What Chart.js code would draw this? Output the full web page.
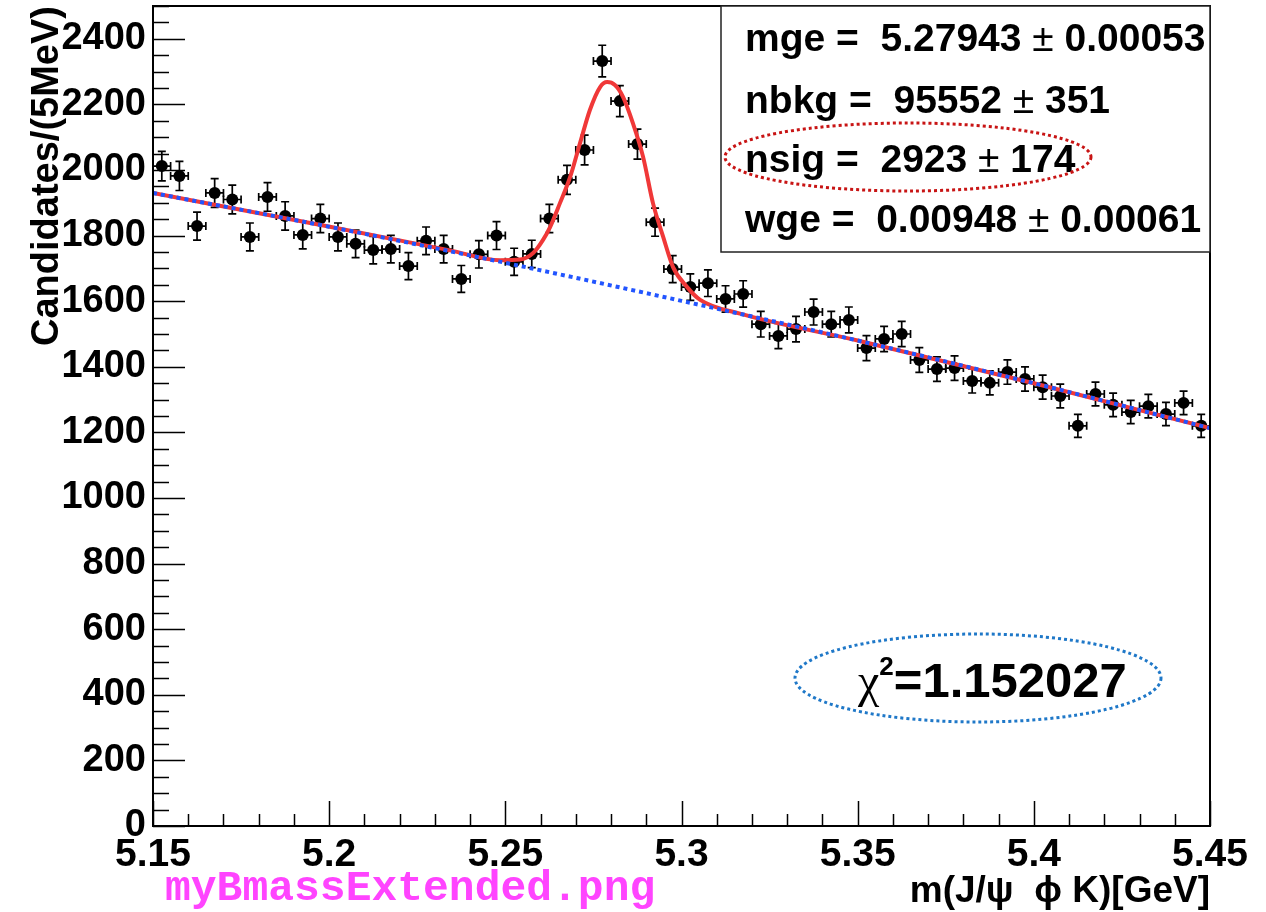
<!DOCTYPE html>
<html>
<head>
<meta charset="utf-8">
<script src="https://cdn.jsdelivr.net/npm/chart.js@4.4.1/dist/chart.umd.min.js"></script>
<style>
  body { margin: 0; background: #fff; }
  canvas { display: block; }
</style>
</head>
<body>
<canvas id="chart" width="1266" height="912"></canvas>
<script>
// 5 MeV bins, 5.15 - 5.45 GeV
const binCenters = [
  5.1525, 5.1575, 5.1625, 5.1675, 5.1725, 5.1775, 5.1825, 5.1875, 5.1925, 5.1975,
  5.2025, 5.2075, 5.2125, 5.2175, 5.2225, 5.2275, 5.2325, 5.2375, 5.2425, 5.2475,
  5.2525, 5.2575, 5.2625, 5.2675, 5.2725, 5.2775, 5.2825, 5.2875, 5.2925, 5.2975,
  5.3025, 5.3075, 5.3125, 5.3175, 5.3225, 5.3275, 5.3325, 5.3375, 5.3425, 5.3475,
  5.3525, 5.3575, 5.3625, 5.3675, 5.3725, 5.3775, 5.3825, 5.3875, 5.3925, 5.3975,
  5.4025, 5.4075, 5.4125, 5.4175, 5.4225, 5.4275, 5.4325, 5.4375, 5.4425, 5.4475
];
const counts = [
  2012, 1982, 1829, 1930, 1910, 1796, 1918, 1860, 1802, 1852,
  1796, 1775, 1756, 1759, 1707, 1784, 1759, 1668, 1743, 1800,
  1720, 1744, 1852, 1970, 2061, 2332, 2210, 2079, 1841, 1698,
  1643, 1655, 1607, 1622, 1530, 1494, 1515, 1567, 1530, 1543,
  1457, 1485, 1500, 1421, 1393, 1396, 1357, 1351, 1384, 1363,
  1338, 1311, 1220, 1317, 1284, 1262, 1280, 1256, 1290, 1220
];
const binWidth = 0.005;

// background component (blue dotted)
const bkgX = [5.15, 5.20, 5.25, 5.30, 5.35, 5.40, 5.45];
const bkgY = [1930, 1827, 1717, 1601, 1480, 1350, 1213];

// total fit (red)
const totalX = [5.15, 5.2002, 5.2343, 5.2485, 5.2542, 5.2579, 5.2607, 5.2627, 5.2655, 5.2684,
  5.2712, 5.2740, 5.2769, 5.2789, 5.2811, 5.2834, 5.2862, 5.2891, 5.2919, 5.2948,
  5.2976, 5.3016, 5.3053, 5.3166, 5.35, 5.40, 5.45];
const totalY = [1930, 1827, 1755, 1725, 1727, 1747, 1787, 1826, 1899, 1979,
  2082, 2183, 2253, 2268, 2259, 2223, 2143, 2040, 1899, 1796,
  1704, 1643, 1604, 1562, 1480, 1350, 1213];

const yTicks = [0, 200, 400, 600, 800, 1000, 1200, 1400, 1600, 1800, 2000, 2200, 2400];
const xTicks = [5.15, 5.2, 5.25, 5.3, 5.35, 5.4, 5.45];
const xTickLabels = ['5.15', '5.2', '5.25', '5.3', '5.35', '5.4', '5.45'];

const fitNames = ['mge', 'nbkg', 'nsig', 'wge'];
const fitValues = ['5.27943', '95552', '2923', '0.00948'];
const fitErrors = ['0.00053', '351', '174', '0.00061'];
const chi2Value = '1.152027';

const BOLD = 'bold 38px "Liberation Sans", Arial, sans-serif';
const STAT = 'bold 39px "Liberation Sans", Arial, sans-serif';
const SYM = '39px "Liberation Sans", "DejaVu Sans", sans-serif';

function drawSegs(ctx, segs, x, y) {
  let cx = x;
  segs.forEach(s => {
    ctx.font = s.font;
    ctx.fillText(s.text, cx, y + (s.dy || 0));
    cx += ctx.measureText(s.text).width;
  });
}

function dottedEllipse(ctx, cx, cy, rx, ry, color) {
  ctx.save();
  ctx.strokeStyle = color;
  ctx.lineWidth = 3;
  ctx.setLineDash([3, 3]);
  ctx.beginPath();
  ctx.ellipse(cx, cy, rx, ry, 0, 0, Math.PI * 2);
  ctx.stroke();
  ctx.restore();
}

const rootPlugin = {
  id: 'rootPlugin',
  beforeDatasetsDraw(chart) {
    const ctx = chart.ctx;
    const xs = chart.scales.x, ys = chart.scales.y;
    ctx.save();
    ctx.strokeStyle = '#000';
    ctx.lineWidth = 1.7;
    binCenters.forEach((c, i) => {
      const px = xs.getPixelForValue(c);
      const pl = xs.getPixelForValue(c - binWidth / 2);
      const pr = xs.getPixelForValue(c + binWidth / 2);
      const err = Math.sqrt(counts[i]);
      const py = ys.getPixelForValue(counts[i]);
      const pt = ys.getPixelForValue(counts[i] + err);
      const pb = ys.getPixelForValue(counts[i] - err);
      ctx.beginPath();
      ctx.moveTo(px, pt); ctx.lineTo(px, pb);
      ctx.moveTo(px - 4, pt); ctx.lineTo(px + 4, pt);
      ctx.moveTo(px - 4, pb); ctx.lineTo(px + 4, pb);
      ctx.moveTo(pl, py); ctx.lineTo(pr, py);
      ctx.moveTo(pl, py - 4); ctx.lineTo(pl, py + 4);
      ctx.moveTo(pr, py - 4); ctx.lineTo(pr, py + 4);
      ctx.stroke();
    });
    ctx.restore();
  },
  afterDraw(chart) {
    const ctx = chart.ctx;
    const a = chart.chartArea;
    const xs = chart.scales.x, ys = chart.scales.y;
    ctx.save();

    // frame
    ctx.strokeStyle = '#000';
    ctx.lineWidth = 2;
    ctx.strokeRect(a.left, a.top, a.right - a.left, a.bottom - a.top);

    // ticks (inside, ROOT style)
    ctx.lineWidth = 1.5;
    ctx.beginPath();
    for (let v = 0; v <= 2500; v += 50) {
      const py = Math.round(ys.getPixelForValue(v)) + 0.5;
      const len = v % 200 === 0 ? 32 : 16;
      ctx.moveTo(a.left, py); ctx.lineTo(a.left + len, py);
    }
    for (let k = 0; k <= 30; k++) {
      const px = Math.round(xs.getPixelForValue(5.15 + k * 0.01)) + 0.5;
      const len = k % 5 === 0 ? 25 : 12;
      ctx.moveTo(px, a.bottom); ctx.lineTo(px, a.bottom - len);
    }
    ctx.stroke();

    // tick labels
    ctx.fillStyle = '#000';
    ctx.font = BOLD;
    ctx.textAlign = 'right';
    ctx.textBaseline = 'middle';
    yTicks.forEach(v => ctx.fillText(String(v), 146, ys.getPixelForValue(v)));
    ctx.textAlign = 'center';
    ctx.textBaseline = 'alphabetic';
    ctx.font = 'bold 39px "Liberation Sans", Arial, sans-serif';
    xTicks.forEach((v, i) => ctx.fillText(xTickLabels[i], xs.getPixelForValue(v), 866));

    // axis titles
    ctx.textAlign = 'right';
    ctx.font = 'bold 37px "Liberation Sans", Arial, sans-serif';
    ctx.fillText('m(J/\u03C8  \u03D5 K)[GeV]', 1210, 902);
    ctx.save();
    ctx.translate(58, 6);
    ctx.rotate(-Math.PI / 2);
    ctx.font = BOLD;
    ctx.textAlign = 'right';
    ctx.fillText('Candidates/(5MeV)', 0, 0);
    ctx.restore();

    // stats box
    ctx.fillStyle = '#fff';
    ctx.fillRect(721, a.top, a.right - 721, 252 - a.top);
    ctx.strokeStyle = '#222';
    ctx.lineWidth = 1.5;
    ctx.strokeRect(721, a.top, a.right - 721, 252 - a.top);
    ctx.fillStyle = '#000';
    ctx.textAlign = 'left';
    const rowY = [51, 113, 172, 232];
    fitNames.forEach((n, i) => {
      drawSegs(ctx, [
        { text: n + ' =  ' + fitValues[i] + ' ', font: STAT },
        { text: '\u00B1', font: SYM },
        { text: ' ' + fitErrors[i], font: STAT }
      ], 745, rowY[i]);
    });
    dottedEllipse(ctx, 908, 157, 183, 34, '#c81414');

    // chi2
    drawSegs(ctx, [
      { text: '\u03C7', font: '48px "Liberation Serif", "DejaVu Serif", serif' },
      { text: '2', font: 'bold 26px "Liberation Sans", Arial, sans-serif', dy: -22 },
      { text: '=' + chi2Value, font: 'bold 49px "Liberation Sans", Arial, sans-serif' }
    ], 858, 697);
    dottedEllipse(ctx, 978, 678, 183, 44, '#1f78c8');

    // file name
    ctx.fillStyle = '#ff44ff';
    ctx.font = 'bold 43px "Liberation Mono", "Courier New", monospace';
    ctx.textAlign = 'left';
    ctx.fillText('myBmassExtended.png', 165, 900);

    ctx.restore();
  }
};

const toXY = (xs, ys) => xs.map((x, i) => ({ x: x, y: ys[i] }));

new Chart(document.getElementById('chart'), {
  type: 'scatter',
  data: {
    datasets: [
      {
        label: 'background',
        data: toXY(bkgX, bkgY),
        showLine: true,
        borderColor: '#2255ff',
        borderWidth: 4,
        borderDash: [4, 4],
        pointRadius: 0,
        cubicInterpolationMode: 'monotone'
      },
      {
        label: 'total',
        data: toXY(totalX, totalY),
        showLine: true,
        borderColor: '#f03838',
        borderWidth: 4,
        pointRadius: 0,
        cubicInterpolationMode: 'monotone'
      },
      {
        label: 'data',
        data: toXY(binCenters, counts),
        pointRadius: 6,
        pointBackgroundColor: '#000',
        pointBorderColor: '#000',
        pointBorderWidth: 0
      }
    ]
  },
  options: {
    responsive: false,
    devicePixelRatio: 1,
    animation: false,
    layout: { padding: { left: 153, right: 56, top: 6, bottom: 86 } },
    plugins: { legend: { display: false }, tooltip: { enabled: false } },
    scales: {
      x: { type: 'linear', display: false, min: 5.15, max: 5.45 },
      y: { type: 'linear', display: false, min: 0, max: 2500 }
    }
  },
  plugins: [rootPlugin]
});
</script>
</body>
</html>
